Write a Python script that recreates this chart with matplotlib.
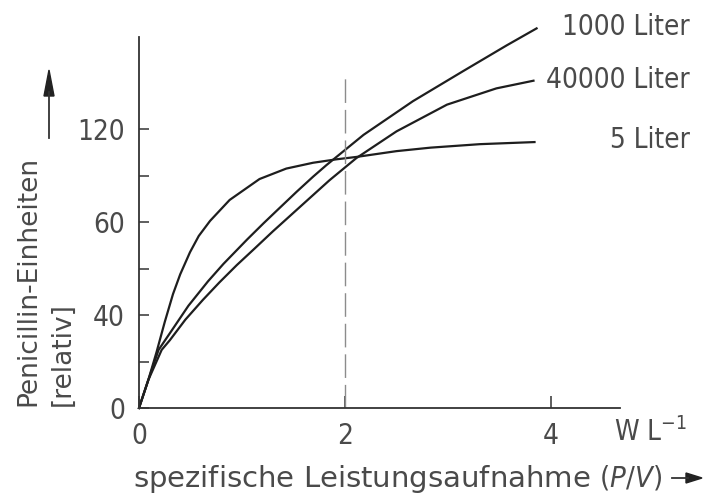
import matplotlib.pyplot as plt

# curves (x in W/L, y in relative axis units)
x_5l = [0, 0.09, 0.17, 0.25, 0.33, 0.40, 0.495, 0.58, 0.69, 0.88, 1.17, 1.43, 1.69, 1.92, 2.11, 2.50, 2.83, 3.31, 3.84]
y_5l = [0, 12, 24, 37, 49, 57.5, 67, 74, 80.5, 89.5, 98.5, 103, 105.5, 107, 108, 110.5, 112, 113.5, 114.4]

x_1000l = [0, 0.09, 0.19, 0.32, 0.48, 0.67, 0.82, 1.05, 1.21, 1.34, 1.53, 1.69, 1.82, 2.18, 2.66, 3.15, 3.57, 3.86]
y_1000l = [0, 12, 25, 33.5, 44, 54.5, 62, 72.5, 79.5, 85, 93, 99.5, 104.5, 117.5, 132, 145, 156, 163.3]

x_40000l = [0, 0.09, 0.22, 0.30, 0.45, 0.62, 0.78, 0.95, 1.12, 1.30, 1.60, 1.85, 2.11, 2.50, 2.99, 3.47, 3.83]
y_40000l = [0, 12, 25, 29.2, 38, 46.5, 54, 61.5, 68.5, 76, 88, 98, 107.5, 119, 130.5, 137.5, 140.8]

curve_names = ['1000 Liter', '40000 Liter', '5 Liter']

ytick_pos = [0, 40, 80, 120]
ytick_labels = ['0', '40', '60', '120']
yminor_pos = [20, 60, 100]
xtick_pos = [0, 2, 4]
xtick_labels = ['0', '2', '4']

W, H = 704, 496
txt = '#4a4a4a'
plt.rcParams['font.family'] = ['DejaVu Sans']
plt.rcParams['font.stretch'] = 'condensed'

fig = plt.figure(figsize=(W / 100, H / 100), dpi=100)
ax = fig.add_axes([139 / W, (H - 408) / H, (620 - 139) / W, (408 - 37) / H])

for xs, ys in [(x_1000l, y_1000l), (x_40000l, y_40000l), (x_5l, y_5l)]:
    ax.plot(xs, ys, color='#1e1e1e', lw=1.6, clip_on=False)

# dashed marker at 2 W/L
ax.plot([2, 2], [0, 144], color='#8c8c8c', lw=1.0, dashes=(17, 5))

ax.set_xlim(0, 4.67)
ax.set_ylim(0, 159.6)
for s in ['top', 'right']:
    ax.spines[s].set_visible(False)
for s in ['left', 'bottom']:
    ax.spines[s].set_color('#333333')
    ax.spines[s].set_linewidth(1.3)

ax.set_yticks(ytick_pos)
ax.set_yticklabels(ytick_labels)
ax.set_yticks(yminor_pos, minor=True)
ax.set_xticks(xtick_pos)
ax.set_xticklabels(xtick_labels)
ax.tick_params(axis='both', which='both', direction='in', color='#333333',
               width=1.1, labelcolor=txt, labelsize=20)
ax.tick_params(axis='y', which='both', length=7, pad=10)
ax.tick_params(axis='x', which='major', length=9, pad=10)

# curve labels at the right
label_y = [27, 80, 140]
for name, py in zip(curve_names, label_y):
    fig.text(690 / W, 1 - py / H, name, ha='right', va='center', color=txt, fontsize=20)

fig.text(614 / W, 1 - 432 / H, 'W L$^{-1}$', ha='left', va='center', color=txt, fontsize=20)

fig.text(133 / W, 1 - 479 / H, 'spezifische Leistungsaufnahme $(P/V)$', ha='left', va='center',
         color=txt, fontsize=21, stretch='normal')
fig.add_artist(plt.Line2D([672 / W, 688 / W], [1 - 478 / H] * 2, color='#333333', lw=1.3))
fig.patches.append(plt.Polygon([(686 / W, 1 - 473 / H), (702 / W, 1 - 478 / H), (686 / W, 1 - 483 / H)],
                               closed=True, color='#222222', transform=fig.transFigure, figure=fig))

fig.text(28 / W, 1 - 406 / H, 'Penicillin-Einheiten', rotation=90, ha='center', va='bottom',
         color=txt, fontsize=19, stretch='normal')
fig.text(63 / W, 1 - 406 / H, '[relativ]', rotation=90, ha='center', va='bottom',
         color=txt, fontsize=19, stretch='normal')
fig.add_artist(plt.Line2D([49 / W, 49 / W], [1 - 138 / H, 1 - 92 / H], color='#333333', lw=1.3))
fig.patches.append(plt.Polygon([(44 / W, 1 - 96 / H), (49 / W, 1 - 70 / H), (54 / W, 1 - 96 / H)],
                               closed=True, color='#222222', transform=fig.transFigure, figure=fig))

fig.savefig('out.png', dpi=100)
